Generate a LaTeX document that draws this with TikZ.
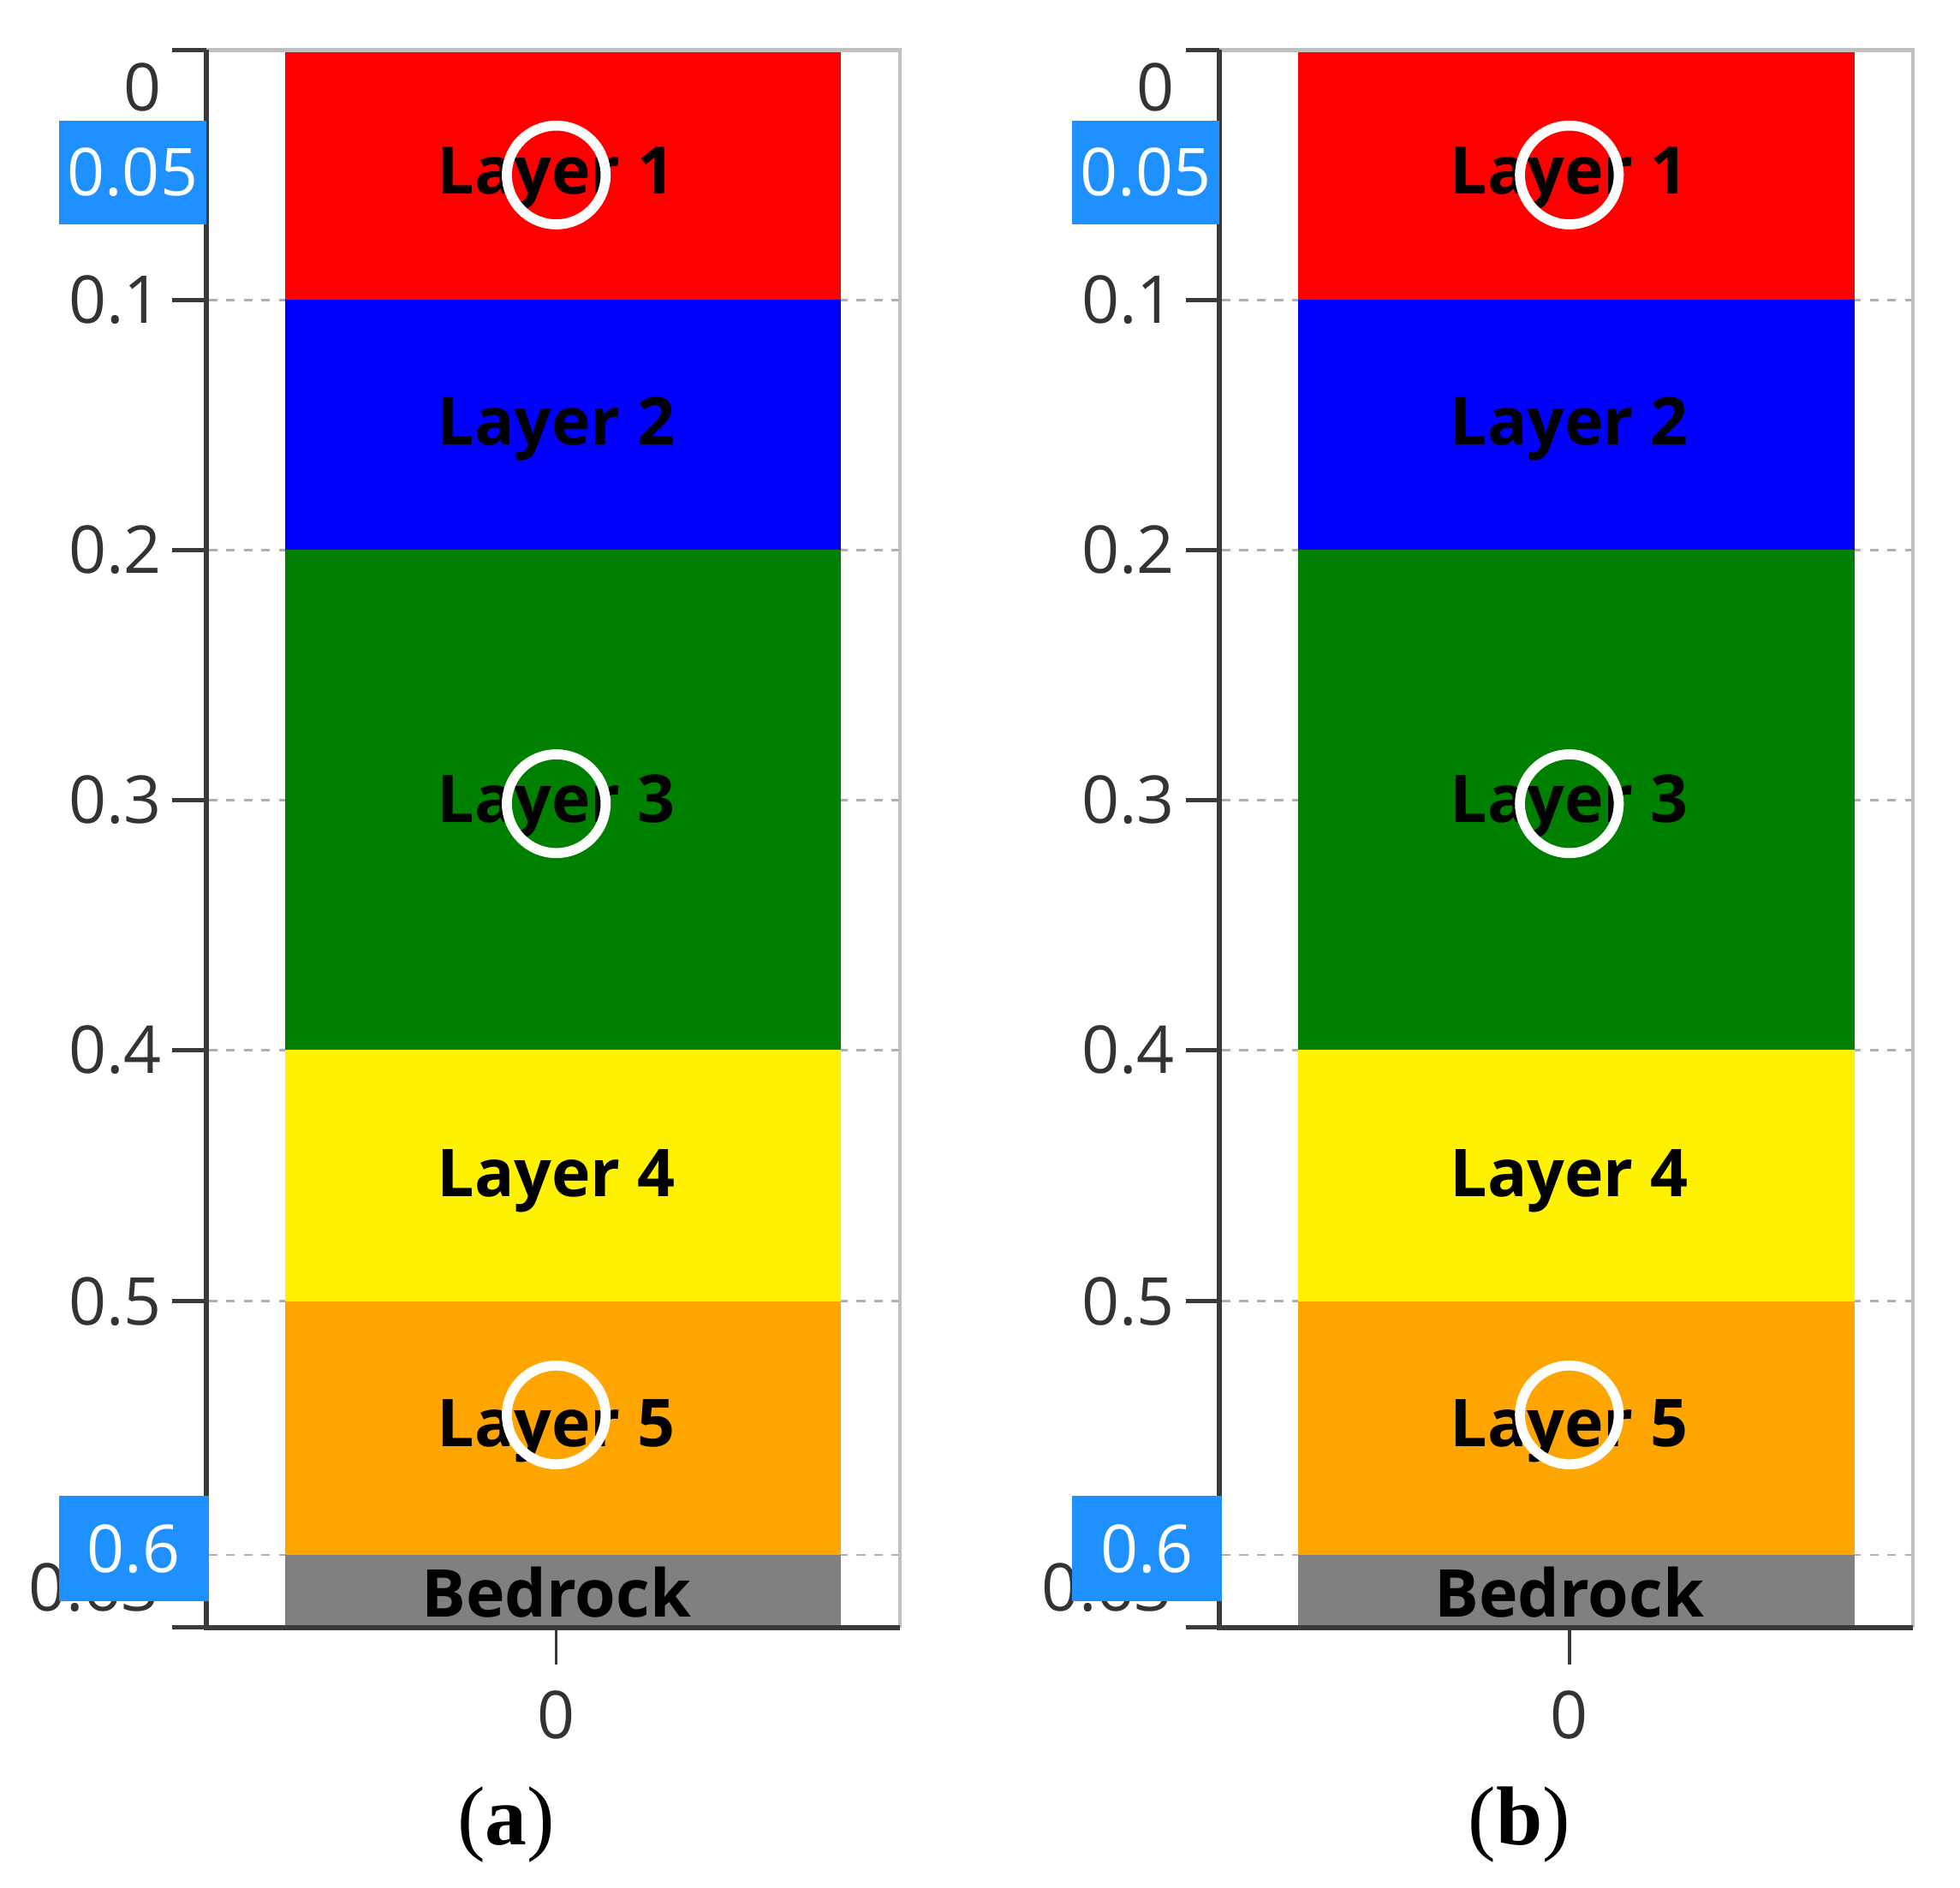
\documentclass[tikz,border=0pt]{standalone}
\usepackage{fontspec}
\setmainfont{Liberation Serif}
\newfontfamily\uifont{Open Sans}
\definecolor{lgreen}{HTML}{008000}
\definecolor{lorange}{HTML}{FFA500}
\definecolor{lgray}{HTML}{808080}
\definecolor{boxblue}{HTML}{1E90FF}
\definecolor{axisdark}{HTML}{3A3A3A}
\definecolor{framegray}{HTML}{C0C0C0}
\definecolor{gridgray}{HTML}{B0B0B0}
\definecolor{ticktext}{HTML}{333333}
\tikzset{
  gridline/.style={draw=gridgray, line width=0.02cm, dash pattern=on 0.07cm off 0.07cm},
  frameline/.style={draw=framegray, line width=0.03cm},
  axisline/.style={draw=axisdark, line width=0.04cm},
  tickline/.style={draw=axisdark, line width=0.035cm},
  ticklab/.style={inner sep=0pt, text=ticktext, font=\uifont\fontsize{15}{18}\selectfont},
  layertxt/.style={inner sep=0pt, text=black, font=\uifont\bfseries\fontsize{15}{18}\selectfont},
  ring/.style={circle, draw=white, line width=0.08cm, minimum size=0.79cm, inner sep=0pt},
  bluebox/.style={fill=boxblue, text=white, inner sep=0pt, font=\uifont\fontsize{15}{18}\selectfont},
  captxt/.style={inner sep=0pt, font=\fontsize{19}{22}\selectfont}
}
\newcommand\drawpanel[2]{%
\begin{scope}[xshift=#1cm]
  % dashed grid lines
  \foreach \yy in {240,440,640,840,1041,1244}
    \draw[gridline] (167,\yy) -- (720,\yy);
  % layers
  \fill[red]     (228,42)   rectangle (673,240);
  \fill[blue]    (228,240)  rectangle (673,440);
  \fill[lgreen]  (228,440)  rectangle (673,840);
  \fill[yellow]  (228,840)  rectangle (673,1041);
  \fill[lorange] (228,1041) rectangle (673,1244);
  \fill[lgray]   (228,1244) rectangle (673,1300);
  % frame
  \draw[frameline] (165,40) -- (720,40) -- (720,1302);
  % tick label mostly hidden under the box
  \node[ticklab, anchor=east] (#2-t063) at (128,1270) {0.63};
  % axes
  \draw[axisline] (165,40) -- (165,1302) -- (720,1302);
  \foreach \yy in {40,240,440,640,840,1041,1244,1302}
    \draw[tickline] (138,\yy) -- (165,\yy);
  \draw[tickline, line width=0.025cm] (445,1302) -- (445,1332);
  % tick labels
  \node[ticklab, anchor=east] (#2-t0)  at (130,70)   {0};
  \node[ticklab, anchor=east] (#2-t1)  at (130,240)  {0.1};
  \node[ticklab, anchor=east] (#2-t2)  at (130,440)  {0.2};
  \node[ticklab, anchor=east] (#2-t3)  at (130,640)  {0.3};
  \node[ticklab, anchor=east] (#2-t4)  at (130,840)  {0.4};
  \node[ticklab, anchor=east] (#2-t5)  at (130,1041) {0.5};
  \node[ticklab] (#2-x0) at (445,1372) {0};
  % highlighted boxes
  \node[bluebox, minimum width=1.18cm, minimum height=0.83cm] (#2-b005) at (106,138) {0.05};
  \node[bluebox, minimum width=1.2cm, minimum height=0.84cm] (#2-b06) at (107,1239) {0.6};
  % layer labels
  \node[layertxt] (#2-L1) at (445,143)  {Layer 1};
  \node[layertxt] (#2-L2) at (445,343)  {Layer 2};
  \node[layertxt] (#2-L3) at (445,645)  {Layer 3};
  \node[layertxt] (#2-L4) at (445,945)  {Layer 4};
  \node[layertxt] (#2-L5) at (445,1145) {Layer 5};
  \node[layertxt] (#2-BR) at (445,1274) {Bedrock};
  % rings
  \node[ring] (#2-c1) at (445,140)  {};
  \node[ring] (#2-c3) at (445,643)  {};
  \node[ring] (#2-c5) at (445,1132) {};
  % caption
  \node[captxt] (#2-cap) at (405,1460) {(\textbf{#2})};
\end{scope}}
\begin{document}
\begin{tikzpicture}[x=0.01cm, y=-0.01cm]
  \useasboundingbox (0,0) rectangle (1568,1510);
  \drawpanel{0}{a}
  \drawpanel{8.1}{b}
\end{tikzpicture}
\end{document}
